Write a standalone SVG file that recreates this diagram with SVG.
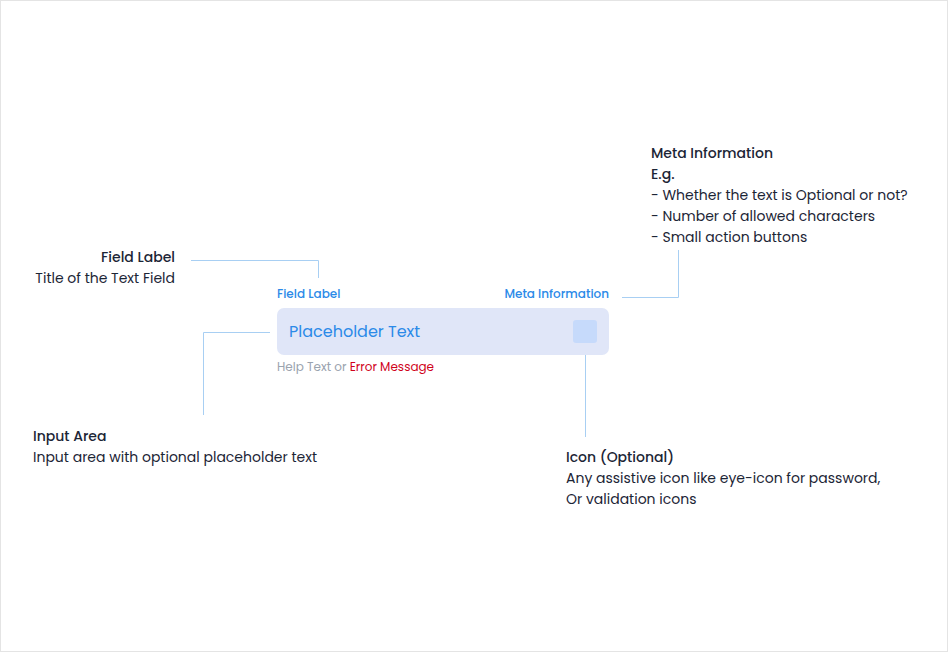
<svg xmlns="http://www.w3.org/2000/svg" width="948" height="652" viewBox="0 0 948 652">
<style>
text{font-family:"Poppins","Open Sans","Noto Sans",sans-serif;}
.h{font-size:14px;font-weight:500;fill:#1c2536;}
.b{font-size:14px;fill:#1c2536;}
.s{font-size:12px;font-weight:500;fill:#2b8ae8;}
.ln{fill:none;stroke:#a8cff3;stroke-width:1;}
</style>
<rect x="0.5" y="0.5" width="947" height="651" fill="#ffffff" stroke="#e4e4e4"/>
<g id="connectors">
<path class="ln" d="M191 260.5H318.5V278"/>
<path class="ln" d="M622 297.5H678.5V250"/>
<path class="ln" d="M270 332.5H203.5V415"/>
<path class="ln" d="M585.5 348V437"/>
</g>
<g id="text-field">
<text class="s" x="277" y="298">Field Label</text>
<text class="s" x="609" y="298" text-anchor="end">Meta Information</text>
<rect x="277" y="308" width="332" height="47" rx="7" fill="#e0e6f8"/>
<text x="289" y="337" font-size="16" fill="#2b8ae8">Placeholder Text</text>
<rect id="icon" x="573" y="320" width="24" height="23" rx="3" fill="#c6dafb"/>
<text x="277" y="371" font-size="12" fill="#9aa3ae">Help Text or <tspan fill="#d0021b">Error Message</tspan></text>
</g>
<g id="note-field-label">
<text class="h" x="175" y="262" text-anchor="end">Field Label</text>
<text class="b" x="175" y="283" text-anchor="end">Title of the Text Field</text>
</g>
<g id="note-meta">
<text class="h" x="651" y="158">Meta Information</text>
<text class="h" x="651" y="179">E.g.</text>
<text class="b" x="651" y="200">- Whether the text is Optional or not?</text>
<text class="b" x="651" y="221">- Number of allowed characters</text>
<text class="b" x="651" y="242">- Small action buttons</text>
</g>
<g id="note-input-area">
<text class="h" x="33" y="441">Input Area</text>
<text class="b" x="33" y="462">Input area with optional placeholder text</text>
</g>
<g id="note-icon">
<text class="h" x="566" y="462">Icon (Optional)</text>
<text class="b" x="566" y="483">Any assistive icon like eye-icon for password,</text>
<text class="b" x="566" y="504">Or validation icons</text>
</g>
</svg>
